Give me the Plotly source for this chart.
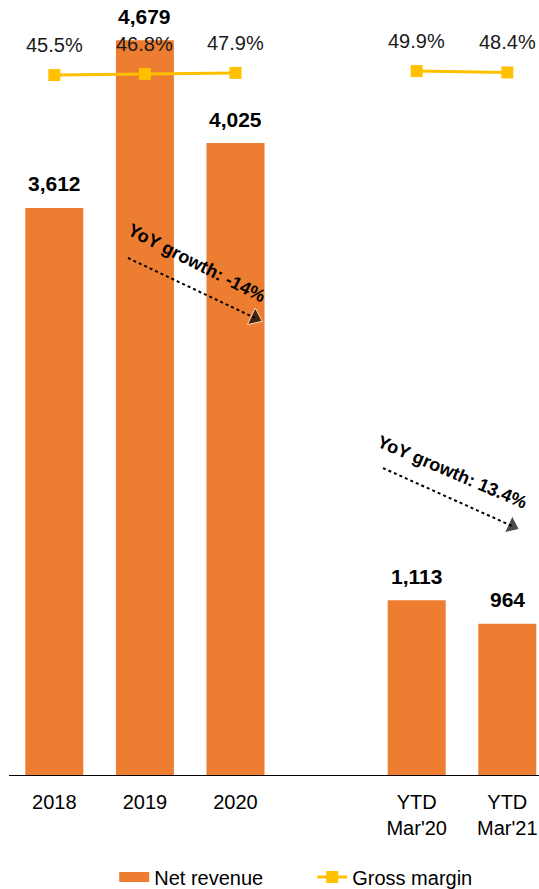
import plotly.graph_objects as go

categories = ["2018", "2019", "2020", " ", "YTD<br>Mar'20", "YTD<br>Mar'21"]
net_revenue = [3612, 4679, 4025, None, 1113, 964]
gross_margin = [45.5, 46.8, 47.9, None, 49.9, 48.4]
yoy_labels = ["YoY growth: -14%", "YoY growth: 13.4%"]

BAR = "#ED7D31"
LINE = "#FFC000"
FONT = "Arial, Liberation Sans, sans-serif"

fig = go.Figure()
fig.add_trace(go.Bar(x=categories, y=net_revenue, name="Net revenue", showlegend=False,
                     marker=dict(color=BAR, line=dict(width=0)), width=0.64))
# legend stand-in for the bar series (wide swatch like the reference)
fig.add_trace(go.Scatter(x=[None], y=[None], name="Net revenue", mode="lines",
                         line=dict(color=BAR, width=11), xaxis="x3"))
fig.add_trace(go.Scatter(x=categories, y=gross_margin, name="Gross margin", yaxis="y2",
                         mode="lines+markers", connectgaps=False,
                         line=dict(color=LINE, width=3),
                         marker=dict(symbol="square", size=12, color=LINE)))

# bar value labels
for i, v in enumerate(net_revenue):
    if v is None:
        continue
    fig.add_annotation(x=i, y=v, xref="x3", yref="y", text=f"<b>{v:,}</b>", showarrow=False,
                       yshift=24, font=dict(size=21, color="#000", family=FONT))
# margin labels
for i, v in enumerate(gross_margin):
    if v is None:
        continue
    fig.add_annotation(x=i, y=v, xref="x3", yref="y2", text=f"{v:.1f}%", showarrow=False,
                       yshift=30, font=dict(size=20, color="#1a1a1a", family=FONT))

# YoY growth arrows (dotted) with triangle heads
arrows = [((0.813, 3293), (2.215, 2911)), ((3.628, 1955), (5.052, 1586))]
texts_pos = [((1.57, 3260), 27), ((4.39, 1930), 23)]
for (p0, p1), (tp, ang), lab in zip(arrows, texts_pos, yoy_labels):
    fig.add_trace(go.Scatter(x=[p0[0], p1[0]], y=[p0[1], p1[1]], mode="lines+markers",
                             line=dict(color="#000", width=2, dash="dot"),
                             marker=dict(symbol="triangle-right", size=[0, 16], angle=25, color="#000"),
                             showlegend=False, hoverinfo="skip", xaxis="x3"))
    fig.add_annotation(x=tp[0], y=tp[1], xref="x3", yref="y", text=f"<b>{lab}</b>", showarrow=False,
                       textangle=ang, font=dict(size=18, color="#000", family=FONT))

fig.update_layout(
    width=539, height=889,
    margin=dict(l=9, r=0, t=0, b=114),
    paper_bgcolor="white", plot_bgcolor="white",
    font=dict(family=FONT, size=20, color="#000"),
    xaxis=dict(type="category", categoryorder="array", categoryarray=categories,
               range=[-0.5, 5.35], showgrid=False, showline=True, linecolor="#000", linewidth=1,
               ticks="outside", ticklen=9, tickcolor="rgba(0,0,0,0)",
               tickfont=dict(size=20, color="#000", family=FONT), zeroline=False),
    xaxis3=dict(range=[-0.5, 5.35], overlaying="x", visible=False),
    yaxis=dict(range=[0, 4936], visible=False, showgrid=False),
    yaxis2=dict(range=[-724.5, 128.1], overlaying="y", visible=False),
    legend=dict(orientation="h", x=0.1985, xanchor="left", yref="container", y=0.0135,
                yanchor="middle",
                font=dict(size=20, color="#000", family=FONT), entrywidth=153,
                traceorder="normal"),
    showlegend=True,
)

fig.write_html("out.html", config={"displayModeBar": False},
               post_script="document.body.style.margin='0';")
